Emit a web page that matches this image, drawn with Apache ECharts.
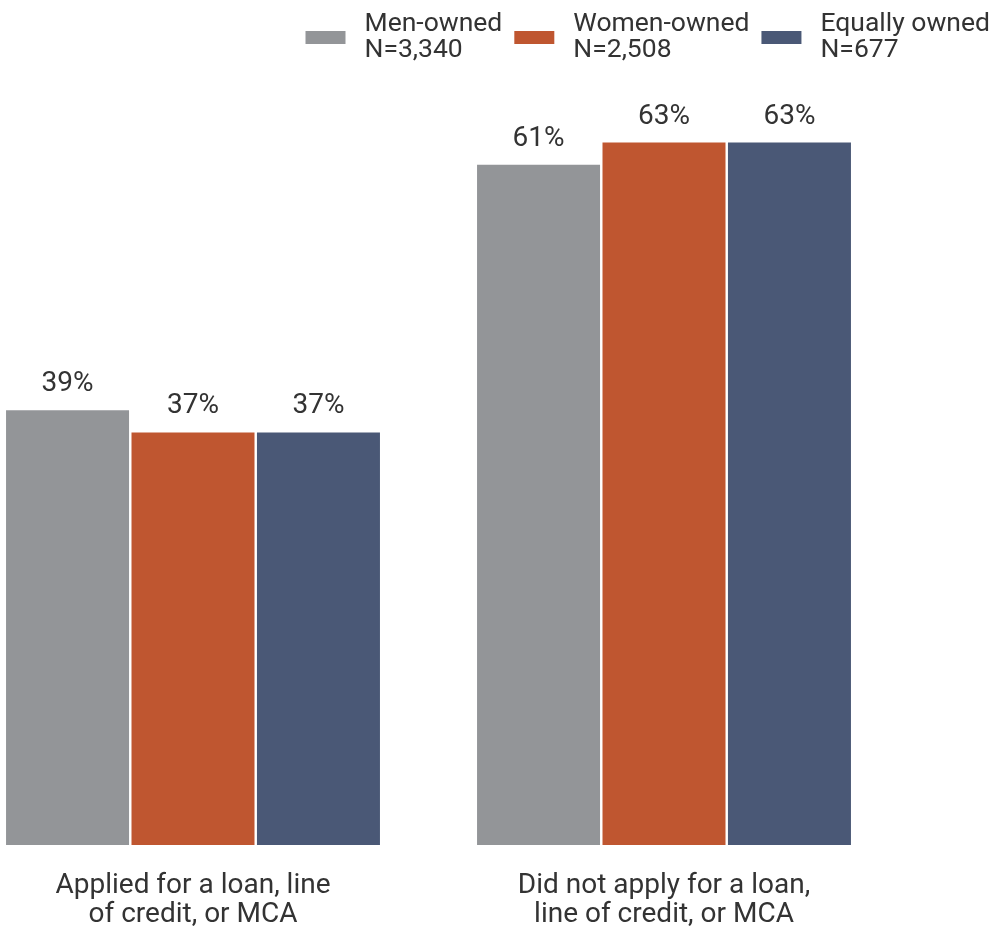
<!DOCTYPE html>
<html>
<head>
<meta charset="utf-8">
<script src="https://cdn.jsdelivr.net/npm/echarts@6/dist/echarts.min.js"></script>
<style>html,body{margin:0;padding:0;background:#fff;}#c{width:999px;height:930px;}</style>
</head>
<body>
<div id="c"></div>
<script>
const categories = ['Applied for a loan, line\nof credit, or MCA', 'Did not apply for a loan,\nline of credit, or MCA'];
const seriesNames = ['Men-owned\nN=3,340', 'Women-owned\nN=2,508', 'Equally owned\nN=677'];
const menOwned = [39, 61];
const womenOwned = [37, 63];
const equallyOwned = [37, 63];
const colors = ['#939598', '#BF5630', '#4A5876'];

const chart = echarts.init(document.getElementById('c'), null, {renderer: 'canvas'});
const font = 'Roboto, "Noto Sans", sans-serif';
const mk = (name, data, i) => ({
  name: name,
  type: 'bar',
  data: data,
  barWidth: 123,
  barGap: '2%',
  itemStyle: {color: colors[i]},
  label: {
    show: true, position: 'top', distance: 12,
    formatter: '{c}%', fontSize: 28, color: '#333333', fontFamily: font
  }
});
chart.setOption({
  animation: false,
  textStyle: {fontFamily: font},
  legend: {
    right: 4, top: 6,
    itemWidth: 40, itemHeight: 13, itemGap: 12,
    icon: 'rect',
    textStyle: {fontSize: 26.5, color: '#333333', lineHeight: 26, fontFamily: font, padding: [0, 0, 0, 14]},
    data: seriesNames
  },
  grid: {left: 193, right: 335, top: 64.5, bottom: 85},
  xAxis: {
    type: 'category', data: categories, boundaryGap: false,
    axisLine: {show: false}, axisTick: {show: false},
    axisLabel: {fontSize: 28, color: '#333333', lineHeight: 29, margin: 26, fontFamily: font}
  },
  yAxis: {type: 'value', min: 0, max: 70, show: false, splitLine: {show: false}},
  series: [mk(seriesNames[0], menOwned, 0), mk(seriesNames[1], womenOwned, 1), mk(seriesNames[2], equallyOwned, 2)]
});
</script>
</body>
</html>
